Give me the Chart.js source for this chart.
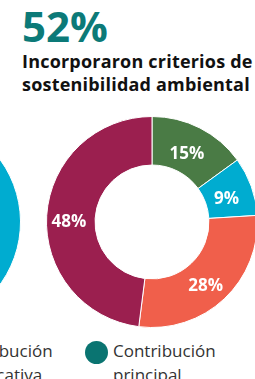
<!DOCTYPE html>
<html>
<head>
<meta charset="utf-8">
<script src="https://cdn.jsdelivr.net/npm/chart.js@4"></script>
<style>
    html, body {
        margin: 0;
        padding: 0;
        width: 255px;
        height: 379px;
        overflow: hidden;
        background: #fff;
        position: relative;
        font-family: "Open Sans", "Liberation Sans", sans-serif;
    }
    .big {
        position: absolute;
        left: 22px;
        top: 2px;
        font-size: 42px;
        font-weight: 700;
        color: #0c7a78;
        line-height: 48px;
    }
    .title {
        position: absolute;
        left: 22px;
        top: 50px;
        font-size: 18px;
        letter-spacing: 0.2px;
        font-weight: 700;
        color: #111;
        line-height: 23px;
        white-space: nowrap;
    }
    canvas { position: absolute; }
    .legend {
        position: absolute;
        top: 339px;
        font-size: 17px;
        color: #333;
        line-height: 24px;
        white-space: nowrap;
    }
    .dot {
        position: absolute;
        width: 23px;
        height: 23px;
        border-radius: 50%;
        background: #0a7471;
    }
</style>
</head>
<body>
<div class="big">52%</div>
<div class="title">Incorporaron criterios de<br>sostenibilidad ambiental</div>

<canvas id="leftChart" width="212" height="212" style="left:-191px; top:116px;"></canvas>
<canvas id="mainChart" width="212" height="212" style="left:46px; top:116px;"></canvas>

<div class="legend" style="left:-50px;">Contribución<br>significativa</div>
<div class="dot" style="left:85px; top:341px;"></div>
<div class="legend" style="left:113px;">Contribución<br>principal</div>

<script>
// Data
const segmentLabels = ['15%', '9%', '28%', '48%'];
const segmentValues = [15, 9, 28, 48];
const segmentColors = ['#4a7b45', '#00acd0', '#f05f4b', '#9b1f4f'];

// Neighbouring chart, mostly cut off by the frame
const leftValues = [15, 45, 20, 20];
const leftColors = ['#4a7b45', '#00acd0', '#f05f4b', '#9b1f4f'];

// Draw the percentage inside each slice
const sliceLabels = {
    id: 'sliceLabels',
    afterDatasetsDraw(chart, args, opts) {
        if (!opts.show) return;
        const ctx = chart.ctx;
        const meta = chart.getDatasetMeta(0);
        ctx.save();
        ctx.fillStyle = '#fff';
        ctx.font = 'bold 17px "Open Sans", "Liberation Sans", sans-serif';
        ctx.textAlign = 'center';
        ctx.textBaseline = 'middle';
        meta.data.forEach((arc, i) => {
            const pos = arc.tooltipPosition();
            ctx.fillText(chart.data.labels[i], pos.x - 2, pos.y + 5);
        });
        ctx.restore();
    }
};

const makeDonut = (canvasId, labels, data, colors, showLabels) => {
    return new Chart(document.getElementById(canvasId), {
        type: 'doughnut',
        data: {
            labels: labels,
            datasets: [{
                data: data,
                backgroundColor: colors,
                borderColor: '#fff',
                borderWidth: 1
            }]
        },
        options: {
            responsive: false,
            animation: false,
            cutout: '54%',
            layout: { padding: 0 },
            plugins: {
                legend: { display: false },
                tooltip: { enabled: false },
                sliceLabels: { show: showLabels }
            }
        },
        plugins: [sliceLabels]
    });
};

makeDonut('leftChart', leftValues.map(v => v + '%'), leftValues, leftColors, false);
makeDonut('mainChart', segmentLabels, segmentValues, segmentColors, true);
</script>
</body>
</html>
